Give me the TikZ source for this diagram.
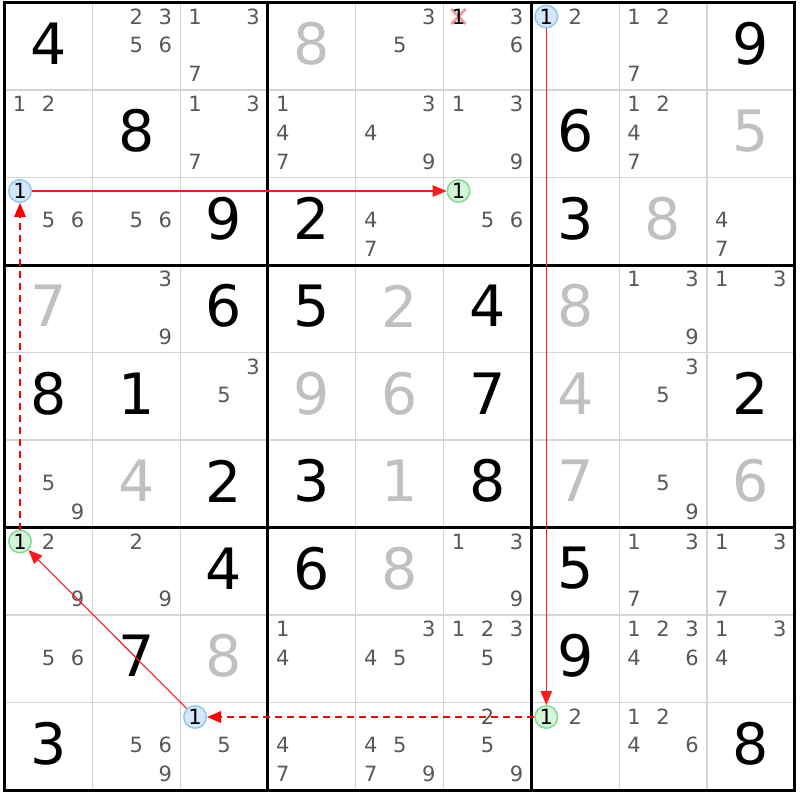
\documentclass[tikz,border=0pt]{standalone}
\usepackage{fontspec}
\setmainfont{DejaVu Sans}
\usetikzlibrary{arrows.meta}
\definecolor{candgray}{HTML}{585858}
\definecolor{solvedgray}{HTML}{C0C0C0}
\definecolor{gridgray}{HTML}{D4D4D4}
\definecolor{linkred}{HTML}{FF1A1A}
\definecolor{bluefill}{HTML}{D5E8FB}
\definecolor{bluedraw}{HTML}{8EC5F2}
\definecolor{greenfill}{HTML}{D5F5DB}
\definecolor{greendraw}{HTML}{7ED98F}
\definecolor{crosspink}{HTML}{F29A9A}
\begin{document}
\begin{tikzpicture}[x=1pt,y=-1pt,
  given/.style={font=\fontsize{57}{57}\selectfont, inner sep=0pt, text=black},
  solved/.style={given, text=solvedgray},
  cand/.style={font=\fontsize{21}{21}\selectfont, inner sep=0pt, text=candgray},
  thin grid/.style={draw=gridgray, line width=1.2pt},
  thick grid/.style={draw=black, line width=3pt},
  bluemark/.style={circle, draw=bluedraw, fill=bluefill, line width=1.4pt, minimum size=22.5pt, inner sep=0pt, font=\fontsize{21}{21}\selectfont, text=black},
  greenmark/.style={bluemark, draw=greendraw, fill=greenfill},
  solidlink/.style={draw=linkred, line width=1.1pt, -{Triangle[length=14pt,width=11.5pt]}},
  dashlink/.style={draw=red, line width=1.8pt, dash pattern=on 7pt off 5pt, -{Triangle[length=14pt,width=11.5pt]}},
  crossline/.style={draw=crosspink, line width=2.8pt}
]
\useasboundingbox (0,0) rectangle (800,800);
\fill[white] (0,0) rectangle (800,800);
% thin grid lines
\foreach \i in {1,2,4,5,7,8} {
  \pgfmathsetmacro\gx{4.5+87.8*\i}
  \pgfmathsetmacro\gy{2.5+87.5*\i}
  \draw[thin grid] (\gx,2.5) -- (\gx,790);
  \draw[thin grid] (4.5,\gy) -- (794.7,\gy);
}
% thick grid lines
\foreach \i in {0,3,6,9} {
  \pgfmathsetmacro\gx{4.5+87.8*\i}
  \pgfmathsetmacro\gy{2.5+87.5*\i}
  \draw[thick grid] (\gx,1) -- (\gx,791.5);
  \draw[thick grid] (3,\gy) -- (796.2,\gy);
}
% given digits
\foreach \r/\c/\d in {0/0/4,0/8/9,1/1/8,1/6/6,2/2/9,2/3/2,2/6/3,3/2/6,3/3/5,3/5/4,4/0/8,4/1/1,4/5/7,4/8/2,5/2/2,5/3/3,5/5/8,6/2/4,6/3/6,6/6/5,7/1/7,7/6/9,8/0/3,8/8/8} {
  \pgfmathsetmacro\px{4.5+87.8*\c+43.9}
  \pgfmathsetmacro\py{2.5+87.5*\r+41}
  \node[given] (g-\r-\c) at (\px,\py) {\d};
}
% solved digits
\foreach \r/\c/\d in {0/3/8,1/8/5,2/7/8,3/0/7,3/4/2,3/6/8,4/3/9,4/4/6,4/6/4,5/1/4,5/4/1,5/6/7,5/8/6,6/4/8,7/2/8} {
  \pgfmathsetmacro\px{4.5+87.8*\c+43.9}
  \pgfmathsetmacro\py{2.5+87.5*\r+41}
  \node[solved] (s-\r-\c) at (\px,\py) {\d};
}
% candidates
\foreach \r/\c/\L in {0/1/{2,3,5,6},0/2/{1,3,7},0/4/{3,5},0/5/{3,6},0/6/{2},0/7/{1,2,7},
  1/0/{1,2},1/2/{1,3,7},1/3/{1,4,7},1/4/{3,4,9},1/5/{1,3,9},1/7/{1,2,4,7},
  2/0/{5,6},2/1/{5,6},2/4/{4,7},2/5/{5,6},2/8/{4,7},
  3/1/{3,9},3/7/{1,3,9},3/8/{1,3},
  4/2/{3,5},4/7/{3,5},
  5/0/{5,9},5/7/{5,9},
  6/0/{2,9},6/1/{2,9},6/5/{1,3,9},6/7/{1,3,7},6/8/{1,3,7},
  7/0/{5,6},7/3/{1,4},7/4/{3,4,5},7/5/{1,2,3,5},7/7/{1,2,3,4,6},7/8/{1,3,4},
  8/1/{5,6,9},8/2/{5},8/3/{4,7},8/4/{4,5,7,9},8/5/{2,5,9},8/6/{2},8/7/{1,2,4,6}} {
  \foreach \d in \L {
    \pgfmathsetmacro\px{4.5+87.8*\c+15+29*mod(\d-1,3)}
    \pgfmathsetmacro\py{2.5+87.5*\r+14+28.75*int((\d-1)/3)}
    \node[cand] (c-\r-\c-\d) at (\px,\py) {\d};
  }
}
% eliminated candidate
\coordinate (xc) at (458.5,16.5);
\draw[crossline] ([shift={(-7,-7.5)}]xc) -- ([shift={(7,7.5)}]xc);
\draw[crossline] ([shift={(-7,7.5)}]xc) -- ([shift={(7,-7.5)}]xc);
\node[cand, text=black] (elim) at (xc) {1};
% chain marks
\node[bluemark]  (A) at (546.3,16.5) {1};
\node[greenmark] (B) at (546.3,717) {1};
\node[bluemark]  (C) at (195.1,717) {1};
\node[greenmark] (D) at (20,541.5) {1};
\node[bluemark]  (E) at (20,191) {1};
\node[greenmark] (F) at (458.5,191) {1};
% links
\draw[solidlink] (A) -- (B);
\draw[solidlink] (E) -- (F);
\draw[dashlink] (B) -- (C);
\draw[solidlink] (C) -- (D);
\draw[dashlink] (D) -- (E);
\end{tikzpicture}
\end{document}
